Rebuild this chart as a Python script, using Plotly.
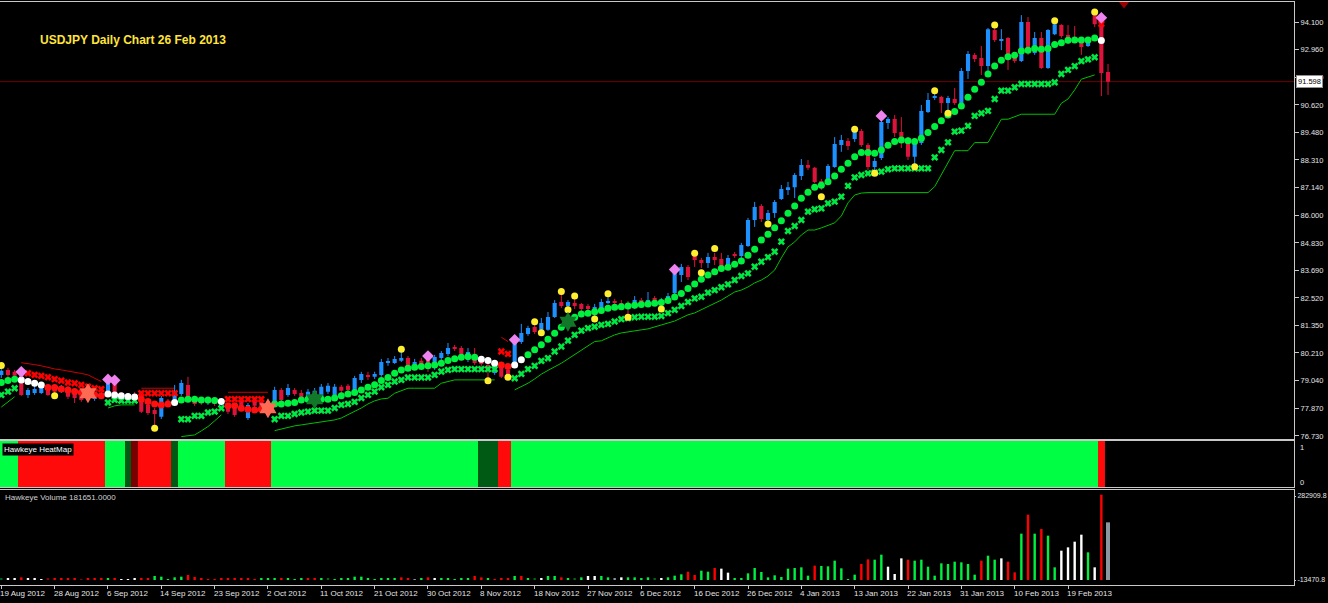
import plotly.graph_objects as go

W, H = 1328, 603

# ---------------- data ----------------
date_labels = ["19 Aug 2012", "28 Aug 2012", "6 Sep 2012", "14 Sep 2012", "23 Sep 2012",
               "2 Oct 2012", "11 Oct 2012", "21 Oct 2012", "30 Oct 2012", "8 Nov 2012",
               "18 Nov 2012", "27 Nov 2012", "6 Dec 2012", "16 Dec 2012", "26 Dec 2012",
               "4 Jan 2013", "13 Jan 2013", "22 Jan 2013", "31 Jan 2013", "10 Feb 2013",
               "19 Feb 2013"]
date_ticks = [0, 8, 16, 24, 32, 40, 48, 56, 64, 72, 80, 88, 96, 104, 112, 120, 128, 136, 144, 152, 160]

open_ = [79.29, 79.50, 79.42, 79.29, 78.45, 78.53, 78.53, 78.79, 78.70, 78.58,
         78.74, 78.66, 78.41, 78.53, 78.28, 78.53, 78.53, 78.95, 78.49, 78.37,
         78.49, 78.53, 78.03, 77.82, 77.53, 78.20, 78.24, 78.49, 78.87, 78.32,
         78.24, 78.11, 78.24, 78.07, 78.03, 77.86, 78.24, 77.48, 78.24, 78.16,
         77.82, 78.11, 78.66, 78.45, 78.66, 78.53, 78.37, 78.41, 78.28, 78.58,
         78.45, 78.79, 78.83, 78.66, 79.08, 79.27, 79.21, 79.29, 79.81, 79.79,
         79.88, 80.00, 79.71, 79.88, 79.92, 79.59, 80.00, 80.17, 80.46, 80.42,
         79.92, 80.04, 79.92, 79.71, 79.37, 79.59, 79.50, 79.71, 80.67, 81.01,
         81.30, 81.18, 81.18, 81.72, 82.35, 82.18, 82.31, 82.27, 82.18, 81.93,
         82.10, 82.33, 82.37, 82.31, 82.31, 82.14, 82.43, 82.39, 82.52, 82.27,
         82.43, 82.73, 83.48, 83.82, 84.28, 84.11, 83.99, 84.24, 84.15, 83.82,
         84.34, 84.28, 84.70, 85.79, 86.38, 85.79, 86.08, 86.67, 87.05, 87.17,
         87.64, 88.10, 87.98, 87.43, 87.51, 88.02, 88.94, 89.11, 89.19, 89.53,
         88.94, 88.02, 88.39, 89.86, 90.03, 89.48, 89.07, 88.44, 89.02, 90.32,
         90.93, 90.95, 90.70, 90.87, 90.70, 92.04, 92.72, 92.59, 92.25, 93.76,
         93.34, 93.43, 92.63, 92.46, 94.10, 92.80, 93.43, 92.17, 93.59, 93.97,
         93.55, 93.43, 93.26, 93.09, 94.39, 94.18, 92.00]
high = [79.63, 79.59, 79.50, 79.37, 78.74, 78.83, 78.87, 78.87, 78.74, 78.87,
        78.83, 78.74, 78.49, 78.66, 78.53, 78.62, 79.04, 79.00, 78.53, 78.53,
        78.58, 78.62, 78.11, 77.90, 78.41, 78.28, 78.87, 79.08, 79.21, 78.41,
        78.32, 78.32, 78.32, 78.28, 78.11, 77.95, 78.32, 78.11, 78.32, 78.24,
        78.24, 78.79, 78.74, 78.91, 78.74, 78.66, 78.70, 78.74, 78.91, 78.95,
        78.91, 78.87, 78.91, 79.25, 79.42, 79.42, 79.42, 79.96, 80.00, 80.08,
        80.25, 80.08, 79.96, 80.00, 80.00, 80.13, 80.29, 80.63, 80.55, 80.50,
        80.42, 80.42, 80.04, 79.83, 79.67, 79.67, 79.59, 80.71, 81.43, 81.35,
        81.39, 81.68, 81.93, 82.43, 82.69, 82.43, 82.52, 82.31, 82.27, 82.27,
        82.48, 82.56, 82.48, 82.43, 82.39, 82.60, 82.52, 82.77, 82.60, 82.52,
        82.73, 83.65, 83.95, 83.90, 84.32, 84.20, 84.41, 84.41, 84.41, 84.32,
        84.45, 84.83, 85.88, 86.55, 86.46, 86.21, 86.63, 87.26, 87.39, 87.76,
        88.35, 88.31, 88.02, 87.51, 88.14, 89.27, 89.36, 89.23, 89.50, 89.61,
        89.02, 88.39, 89.99, 90.11, 90.20, 90.11, 89.27, 89.23, 90.62, 91.12,
        91.12, 91.00, 91.00, 91.33, 92.17, 92.88, 92.80, 93.09, 93.85, 93.85,
        93.80, 93.47, 92.72, 94.39, 94.31, 93.68, 93.68, 93.80, 94.06, 94.01,
        93.97, 93.93, 93.34, 93.34, 94.44, 94.23, 92.34]
low = [79.16, 79.16, 79.08, 78.41, 78.32, 78.45, 78.49, 78.41, 78.53, 78.53,
       78.28, 78.11, 78.16, 78.24, 78.20, 78.28, 78.49, 78.41, 78.28, 78.28,
       78.32, 77.69, 77.61, 77.11, 77.44, 77.95, 78.16, 78.41, 78.28, 77.99,
       78.03, 78.03, 77.99, 77.99, 77.65, 77.53, 77.86, 77.40, 77.90, 77.82,
       77.74, 78.03, 78.16, 78.37, 78.41, 78.24, 78.28, 78.32, 78.20, 78.49,
       78.37, 78.53, 78.58, 78.58, 78.95, 79.08, 79.12, 79.21, 79.67, 79.75,
       79.83, 79.59, 79.63, 79.67, 79.42, 79.50, 79.92, 80.08, 80.29, 80.04,
       79.83, 79.71, 79.59, 79.12, 79.29, 79.16, 79.25, 79.63, 80.59, 80.93,
       81.01, 81.14, 81.14, 81.68, 82.10, 82.10, 82.06, 81.89, 81.98, 81.77,
       82.02, 82.27, 82.22, 82.14, 81.85, 82.06, 82.22, 82.22, 82.27, 82.18,
       82.35, 82.64, 83.19, 83.27, 83.82, 83.78, 83.78, 83.90, 83.78, 83.78,
       84.20, 84.20, 84.66, 85.50, 85.71, 85.71, 85.88, 86.63, 86.84, 86.71,
       87.47, 87.89, 87.34, 87.05, 87.43, 87.98, 88.65, 88.73, 89.07, 88.86,
       87.89, 87.89, 88.31, 89.61, 89.27, 88.81, 88.31, 88.14, 88.94, 90.28,
       90.83, 90.28, 90.37, 90.62, 90.66, 91.71, 92.42, 91.88, 92.00, 93.26,
       92.92, 92.09, 92.38, 92.42, 92.72, 92.72, 92.13, 92.13, 93.55, 93.43,
       93.18, 93.22, 92.72, 93.05, 93.89, 90.99, 91.04]
close = [79.46, 79.29, 79.25, 78.45, 78.66, 78.70, 78.79, 78.45, 78.58, 78.79,
         78.37, 78.32, 78.24, 78.32, 78.45, 78.32, 79.00, 78.45, 78.37, 78.45,
         78.37, 77.74, 77.69, 77.65, 78.32, 78.03, 78.58, 78.95, 78.37, 78.07,
         78.11, 78.24, 78.07, 78.20, 77.74, 77.61, 77.95, 78.03, 77.99, 77.90,
         78.16, 78.66, 78.24, 78.74, 78.49, 78.32, 78.58, 78.62, 78.79, 78.83,
         78.79, 78.62, 78.66, 79.16, 79.33, 79.23, 79.33, 79.83, 79.85, 79.96,
         80.00, 79.63, 79.83, 79.75, 79.63, 80.04, 80.21, 80.42, 80.38, 80.13,
         80.25, 79.79, 79.75, 79.50, 79.59, 79.21, 79.33, 80.67, 81.05, 81.26,
         81.09, 81.47, 81.72, 82.31, 82.18, 82.35, 82.18, 82.06, 82.06, 82.14,
         82.35, 82.37, 82.33, 82.22, 82.10, 82.43, 82.31, 82.43, 82.35, 82.43,
         82.60, 83.57, 83.82, 83.40, 84.11, 83.99, 84.24, 84.11, 83.86, 84.20,
         84.30, 84.74, 85.79, 86.34, 85.83, 86.08, 86.55, 87.09, 87.17, 87.68,
         88.10, 87.98, 87.39, 87.34, 88.06, 88.98, 89.15, 88.90, 89.48, 88.94,
         88.02, 88.27, 89.90, 90.03, 89.44, 89.15, 88.44, 89.07, 90.37, 90.83,
         90.98, 90.70, 90.91, 90.70, 92.04, 92.76, 92.55, 92.25, 93.80, 93.34,
         93.38, 92.63, 92.46, 94.10, 92.92, 93.43, 92.17, 93.76, 94.01, 93.51,
         93.26, 93.38, 93.05, 93.26, 94.01, 91.96, 91.598]

# big dot trailing stop
trail_dots = [78.97, 79.05, 79.11, 79.08, 79.01, 78.94, 78.87, 78.76, 78.76, 78.70,
              78.66, 78.59, 78.55, 78.52, 78.45, 78.41, 78.49, 78.45, 78.41, 78.38,
              78.36, 78.27, 78.17, 78.07, 78.03, 78.07, 78.13, 78.24, 78.27, 78.27,
              78.24, 78.24, 78.21, 78.17, 77.99, 77.99, 77.89, 77.85, 77.82, 77.85,
              77.89, 78.07, 78.07, 78.10, 78.13, 78.24, 78.27, 78.27, 78.27, 78.27,
              78.32, 78.41, 78.49, 78.55, 78.66, 78.77, 78.88, 79.05, 79.18, 79.36,
              79.50, 79.57, 79.61, 79.64, 79.67, 79.71, 79.78, 79.89, 79.97, 80.03,
              80.06, 80.03, 79.95, 79.89, 79.78, 79.71, 79.64, 79.71, 79.92, 80.13,
              80.34, 80.55, 80.79, 81.04, 81.29, 81.52, 81.71, 81.85, 81.88, 81.94,
              81.99, 82.09, 82.13, 82.15, 82.18, 82.21, 82.24, 82.27, 82.30, 82.33,
              82.41, 82.56, 82.71, 82.92, 83.10, 83.30, 83.48, 83.62, 83.76, 83.81,
              83.93, 84.07, 84.31, 84.56, 84.95, 85.19, 85.47, 85.76, 86.07, 86.38,
              86.70, 86.95, 87.16, 87.25, 87.40, 87.64, 87.92, 88.17, 88.44, 88.62,
              88.62, 88.59, 88.73, 88.93, 89.08, 89.15, 89.12, 89.08, 89.22, 89.46,
              89.71, 89.96, 90.20, 90.34, 90.58, 90.94, 91.28, 91.57, 91.92, 92.25,
              92.50, 92.64, 92.70, 92.88, 92.92, 92.99, 92.96, 92.99, 93.16, 93.23,
              93.33, 93.34, 93.34, 93.34, 93.43, 93.32, None]
dot_runs = [("G", 3), ("W", 4), ("R", 9), ("W", 5), ("R", 5), ("W", 1), ("G", 6), ("W", 1),
            ("R", 7), ("G", 31), ("W", 3), ("R", 2), ("W", 2), ("G", 86), ("W", 1), ("-", 1)]

# x-mark trailing stop
x_trail = [78.45, 78.59, 78.73, None, 79.36, 79.29, 79.25, 79.19, 79.11, 79.05,
           78.97, 78.94, 78.87, 78.80, 78.73, 78.69, 78.13, 78.24, 78.21, 78.21,
           78.21, 78.52, 78.52, 78.52, 78.52, 78.52, 78.52, 77.43, 77.43, 77.57,
           77.57, 77.71, 77.75, 77.89, 78.27, 78.27, 78.27, 78.27, 78.27, 78.27,
           None, 77.43, 77.57, 77.57, 77.65, 77.71, 77.75, 77.79, 77.79, 77.79,
           77.90, 78.03, 78.07, 78.16, 78.32, 78.45, 78.59, 78.77, 78.87, 79.01,
           79.08, 79.18, 79.18, 79.18, 79.18, 79.29, 79.43, 79.50, 79.53, 79.53,
           79.53, 79.53, 79.53, 79.53, 79.53, 80.27, 80.17, 79.15, 79.33, 79.53,
           79.67, 79.88, 79.99, 80.27, 80.48, 80.73, 80.97, 81.15, 81.25, 81.31,
           81.39, 81.43, 81.53, 81.63, 81.67, 81.71, 81.73, 81.73, 81.73, 81.76,
           81.88, 82.02, 82.18, 82.35, 82.50, 82.57, 82.74, 82.85, 82.97, 83.09,
           83.27, 83.44, 83.55, 83.83, 84.04, 84.23, 84.46, 84.88, 85.33, 85.54,
           85.79, 86.14, 86.24, 86.28, 86.49, 86.56, 86.77, 87.22, 87.58, 87.68,
           87.75, 87.78, 87.82, 87.92, 87.96, 87.96, 87.96, 87.96, 87.96, 87.96,
           88.42, 88.73, 89.05, 89.50, 89.54, 89.74, 90.16, 90.27, 90.37, 90.87,
           91.22, 91.22, 91.36, 91.50, 91.50, 91.50, 91.50, 91.50, 91.57, 91.92,
           92.09, 92.25, 92.46, 92.53, 92.62, 94.02, None]
x_runs = [("G", 3), ("-", 1), ("R", 12), ("G", 5), ("R", 6), ("G", 7), ("R", 6), ("-", 1),
          ("G", 34), ("R", 2), ("G", 88), ("R", 1), ("-", 1)]

# thin band lines: (first bar index, values)
lower_band = [(0, [77.94, 78.16, 78.37]),
              (16, [77.90, 77.99, 78.03, 78.03, 78.03]),
              (27, [76.70, 76.73, 76.77, 76.94, 77.12, 77.36, 77.61]),
              (41, [76.95, 77.02, 77.09, 77.15, 77.19, 77.23, 77.27, 77.30, 77.33, 77.40,
                    77.48, 77.61, 77.74, 77.90, 78.07, 78.20, 78.28, 78.31, 78.52, 78.62,
                    78.73, 78.73, 78.73, 78.73, 78.73, 78.94, 79.00, 79.08, 79.08, 79.08,
                    79.08, 79.08, 79.08, 79.08]),
              (77, [78.66, 78.79, 78.94, 79.12, 79.32, 79.48, 79.62, 79.78, 79.96, 80.15,
                    80.34, 80.51, 80.69, 80.72, 80.84, 80.97, 81.05, 81.10, 81.16, 81.18,
                    81.22, 81.30, 81.39, 81.47, 81.55, 81.68, 81.81, 81.89, 82.02, 82.18,
                    82.31, 82.43, 82.60, 82.77, 82.85, 82.98, 83.15, 83.27, 83.44, 83.69,
                    84.20, 84.66, 84.87, 85.16, 85.37, 85.37, 85.46, 85.58, 85.67, 85.96,
                    86.51, 86.84, 86.92, 86.94, 86.94, 86.94, 86.94, 86.94, 86.94, 86.94,
                    86.94, 86.94, 86.94, 87.19, 87.68, 88.23, 88.70, 88.70, 88.70, 89.04,
                    89.04, 89.04, 89.53, 90.02, 90.02, 90.14, 90.23, 90.23, 90.23, 90.23,
                    90.23, 90.23, 90.69, 90.87, 91.25, 91.70, 91.79, 91.88])]
upper_band = [(3, [79.80, 79.77, 79.72, 79.67, 79.60, 79.54, 79.50, 79.46, 79.42, 79.35,
                   79.29, 79.16, 79.01]),
              (21, [78.73, 78.73, 78.73, 78.73, 78.73, 78.73]),
              (34, [78.56, 78.56, 78.56, 78.56, 78.56, 78.56, 78.56]),
              (75, [80.87, 80.69])]

yellow_idx = [0, 8, 23, 60, 73, 76, 80, 81, 84, 85, 86, 89, 91, 94, 99, 104, 105, 107,
              115, 123, 128, 131, 137, 140, 142, 149, 158, 164]
yellow_price = [79.68, 78.41, 77.05, 80.37, 79.04, 79.19, 81.52, 81.06, 82.79, 82.02, 82.60,
                81.64, 82.69, 81.71, 82.06, 84.40, 83.58, 84.59, 85.62, 86.77, 89.60, 87.75,
                88.03, 91.21, 90.27, 93.97, 94.15, 94.52]
diamond_idx = [3, 16, 17, 64, 77, 101, 132, 165]
diamond_price = [79.42, 79.10, 79.06, 80.08, 80.76, 83.71, 90.16, 94.28]
burst_idx = [13, 40, 47, 85]
burst_price = [78.52, 77.89, 78.27, 81.52]
burst_kind = ["S", "S", "D", "D"]
alert_idx = [168.4]
alert_price = [94.86]

heat_runs = [("G", 3), ("R", 13), ("G", 3), ("D", 1), ("K", 1), ("R", 5), ("D", 1), ("G", 7),
             ("R", 7), ("G", 31), ("D", 3), ("R", 2), ("G", 88), ("R", 1)]

volume = [4700, 4700, 5900, 9400, 7100, 4700, 2400, 4700, 4700, 4700,
          4700, 7100, 2400, 4700, 4700, 4700, 7100, 7100, 2400, 2400,
          4700, 7100, 7100, 14100, 11800, 2400, 9400, 11800, 17600, 10600,
          4700, 2400, 2400, 4700, 7100, 7100, 7100, 7100, 2400, 7100,
          4700, 7100, 7100, 4700, 2400, 4700, 4700, 7100, 7100, 4700,
          2400, 7100, 7100, 11800, 11800, 4700, 2400, 7100, 7100, 7100,
          9400, 7100, 3500, 4700, 9400, 7100, 7100, 7100, 2400, 4700,
          7100, 14100, 9400, 7100, 2400, 4700, 7100, 14100, 14100, 7100,
          4700, 7100, 14100, 14100, 9400, 7100, 4700, 9400, 14100, 14100,
          14100, 9400, 4700, 9400, 9400, 9400, 7100, 9400, 4700, 7100,
          9400, 15300, 20000, 29400, 17600, 32900, 29400, 42300, 40000, 25900,
          5900, 7100, 23500, 42300, 28200, 9400, 16500, 10600, 40000, 42300,
          44700, 15300, 50600, 49400, 48200, 68200, 41200, 1200, 18800, 56400,
          72900, 71700, 89400, 47000, 21200, 76400, 71700, 68200, 71700, 47000,
          15300, 58800, 56400, 64700, 62300, 56400, 18800, 68200, 85800, 71700,
          76400, 64700, 27000, 163500, 230500, 163500, 179900, 156400, 44700, 103500,
          115200, 135200, 159900, 97600, 44700, 301100, 203400]
vol_codes = ("DWWRWWWKRR" "RRKRRRGRWW" "WRRGGGGGRR" "RRRRRRRRRG" "GGRGGGRRGD"
             "GGGGGGGGGG" "RRAGRWGGGG" "GRRGRRRGRG" "DWGGRGDGWW" "GGAWGGGGDW"
             "GGGRRGGRWW" "GGGGGGGGGG" "GGRGGGGGGR" "RGGWWWRGGG" "GGGGGGGRGG"
             "WRRGRGRGGW" "WWWGWRA")

last_price = 91.598
price_ticks = [94.100, 92.960, 91.790, 90.620, 89.480, 88.310, 87.140, 86.000,
               84.830, 83.690, 82.520, 81.350, 80.210, 79.040, 77.870, 76.730]
vol_ticks = [282909.8, -13470.8]
volume_title = "Hawkeye Volume 181651.0000"

# ---------------- styling ----------------
BULL, BEAR = "#1e90ff", "#dc143c"
DOT_COL = {"G": "#00f040", "W": "#ffffff", "R": "#ff1010"}
X_COL = {"G": "#00e844", "R": "#ff0000"}
VOL_COL = {"G": "#00f040", "R": "#ff0000", "W": "#ffffff", "D": "#006414", "K": "#8b0000", "A": "#8c969e"}
HEAT_CODE = {"G": 0, "R": 1, "D": 2, "K": 3}
FRAME = "#c8c8c8"
TXT = "#e4e4e4"
FONT = "Liberation Sans, Arial, sans-serif"


def expand(runs):
    return [c for c, n in runs for _ in range(n)]


def segments(segs):
    xs, ys = [], []
    for start, vals in segs:
        xs += list(range(start, start + len(vals))) + [None]
        ys += list(vals) + [None]
    return xs, ys


n = len(close)
idx = list(range(n))
x_end = 1294  # px right edge of the plot panels
px_per_bar = 6.667
x0_px = 1.3
xr = [(0 - x0_px) / px_per_bar, (x_end - x0_px) / px_per_bar]
xdom = [0, x_end / W]


def ydom(top_px, bot_px):
    return [1 - bot_px / H, 1 - top_px / H]


fig = go.Figure()

# band lines
lx, ly = segments(lower_band)
fig.add_trace(go.Scatter(x=lx, y=ly, mode="lines", line=dict(color="#00c000", width=1),
                         hoverinfo="skip", xaxis="x", yaxis="y"))
ux, uy = segments(upper_band)
fig.add_trace(go.Scatter(x=ux, y=uy, mode="lines", line=dict(color="#cc0000", width=1),
                         hoverinfo="skip", xaxis="x", yaxis="y"))

# wicks
for col, is_bull in ((BULL, True), (BEAR, False)):
    wx, wy = [], []
    for i in idx:
        if (close[i] >= open_[i]) == is_bull:
            wx += [i, i, None]
            wy += [low[i], high[i], None]
    fig.add_trace(go.Scatter(x=wx, y=wy, mode="lines", line=dict(color=col, width=1),
                             hoverinfo="skip", xaxis="x", yaxis="y"))

# bodies
body_base = [min(o, c) for o, c in zip(open_, close)]
body_h = [max(abs(c - o), 0.035) for o, c in zip(open_, close)]
body_col = [BULL if c >= o else BEAR for o, c in zip(open_, close)]
fig.add_trace(go.Bar(x=idx, y=body_h, base=body_base, width=0.62,
                     marker=dict(color=body_col, line=dict(width=0)),
                     hoverinfo="skip", xaxis="x", yaxis="y"))

# x-mark trail
xs_state = expand(x_runs)
xm_x = [i for i in idx if xs_state[i] != "-"]
fig.add_trace(go.Scatter(x=xm_x, y=[x_trail[i] for i in xm_x], mode="markers",
                         marker=dict(symbol="x", size=6.5, color=[X_COL[xs_state[i]] for i in xm_x],
                                     line=dict(width=0)),
                         hoverinfo="skip", xaxis="x", yaxis="y"))

# dot trail
ds = expand(dot_runs)
dx = [i for i in idx if ds[i] != "-"]
fig.add_trace(go.Scatter(x=dx, y=[trail_dots[i] for i in dx], mode="markers",
                         marker=dict(symbol="circle", size=7, color=[DOT_COL[ds[i]] for i in dx],
                                     line=dict(width=0)),
                         hoverinfo="skip", xaxis="x", yaxis="y"))

# yellow fractal dots
fig.add_trace(go.Scatter(x=yellow_idx, y=yellow_price, mode="markers",
                         marker=dict(symbol="circle", size=7, color="#ffee30", line=dict(width=0)),
                         hoverinfo="skip", xaxis="x", yaxis="y"))
# pink diamonds
fig.add_trace(go.Scatter(x=diamond_idx, y=diamond_price, mode="markers",
                         marker=dict(symbol="diamond", size=9, color="#ee82ee", line=dict(width=0)),
                         hoverinfo="skip", xaxis="x", yaxis="y"))
# bursts
bcol = ["#ff6a55" if k == "S" else "#11782a" for k in burst_kind]
fig.add_trace(go.Scatter(x=burst_idx, y=burst_price, mode="markers",
                         marker=dict(symbol="circle", size=11, color=bcol, line=dict(width=0)),
                         hoverinfo="skip", xaxis="x", yaxis="y"))
fig.add_trace(go.Scatter(x=burst_idx, y=burst_price, mode="markers",
                         marker=dict(symbol="hexagram", size=15, color=bcol, line=dict(width=0)),
                         hoverinfo="skip", xaxis="x", yaxis="y"))
# alert triangle at top
fig.add_trace(go.Scatter(x=alert_idx, y=alert_price, mode="markers", cliponaxis=False,
                         marker=dict(symbol="triangle-down", size=9, color="#9a0000", line=dict(width=0)),
                         hoverinfo="skip", xaxis="x", yaxis="y"))

# heat map panel
hs = expand(heat_runs)
fig.add_trace(go.Heatmap(z=[[HEAT_CODE[c] for c in hs]], x=list(range(len(hs))), y=[0.5],
                         zmin=0, zmax=3, showscale=False, hoverinfo="skip",
                         colorscale=[[0, "#00ff44"], [0.1667, "#00ff44"], [0.1667, "#ff0a0a"], [0.5, "#ff0a0a"],
                                     [0.5, "#005a14"], [0.8333, "#005a14"], [0.8333, "#7a0000"], [1, "#7a0000"]],
                         xaxis="x2", yaxis="y2"))

# volume panel
vwidth = [0.36] * (n - 1) + [0.6]
fig.add_trace(go.Bar(x=idx, y=volume, base=vol_ticks[1], width=vwidth,
                     marker=dict(color=[VOL_COL[c] for c in vol_codes], line=dict(width=0)),
                     hoverinfo="skip", xaxis="x3", yaxis="y3"))

axis_common = dict(showgrid=False, zeroline=False, showline=True, mirror=True,
                   linecolor=FRAME, linewidth=1, automargin=False)

fig.update_layout(
    width=W, height=H, template="none",
    paper_bgcolor="black", plot_bgcolor="black",
    margin=dict(l=0, r=0, t=0, b=0),
    showlegend=False, barmode="overlay", hovermode=False,
    font=dict(family=FONT, color=TXT, size=8),
    xaxis=dict(domain=xdom, range=xr, anchor="y", showticklabels=False, ticks="", **axis_common),
    yaxis=dict(domain=ydom(2, 438.5), range=[76.62, 94.94], side="right", anchor="x",
               tickvals=price_ticks, ticktext=[f"{v:.3f}" for v in price_ticks],
               ticks="outside", ticklen=4, tickcolor=FRAME,
               tickfont=dict(size=7.5, color=TXT, family=FONT), **axis_common),
    xaxis2=dict(domain=xdom, range=xr, anchor="y2", showticklabels=False, ticks="", **axis_common),
    yaxis2=dict(domain=ydom(441, 487), range=[0, 1], side="right", anchor="x2",
                showticklabels=False, ticks="", **axis_common),
    xaxis3=dict(domain=xdom, range=xr, anchor="y3", showticklabels=False,
                tickvals=date_ticks, ticks="outside", ticklen=3, tickcolor=FRAME, **axis_common),
    yaxis3=dict(domain=ydom(490, 585), range=[-31111, 304078], side="right", anchor="x3",
                tickvals=vol_ticks, ticktext=[f"{v:.1f}" for v in vol_ticks],
                ticks="outside", ticklen=1, tickcolor=FRAME,
                tickfont=dict(size=7, color=TXT, family=FONT), **axis_common),
)

# current price line
fig.add_shape(type="line", xref="paper", yref="y", x0=0, x1=x_end / W, y0=last_price, y1=last_price,
              line=dict(color="#6e0000", width=1), layer="below")

ann = []
ann.append(dict(text="<b>USDJPY Daily Chart 26 Feb 2013</b>", xref="paper", yref="paper",
                x=38 / W, y=1 - 40 / H, xanchor="left", yanchor="middle", showarrow=False,
                font=dict(family=FONT, size=12, color="#ffe43a")))
ann.append(dict(text=f"{last_price:.3f}", xref="paper", yref="y", x=1295.5 / W, y=last_price,
                xanchor="left", yanchor="middle", showarrow=False, bgcolor="#ffffff",
                bordercolor="#909090", borderwidth=1, borderpad=1,
                font=dict(family=FONT, size=7.5, color="#000000")))
ann.append(dict(text="Hawkeye HeatMap", xref="paper", yref="paper", x=2 / W, y=1 - 449 / H,
                xanchor="left", yanchor="middle", showarrow=False, bgcolor="#000000", borderpad=1,
                font=dict(family=FONT, size=8, color="#ffffff")))
ann.append(dict(text=volume_title, xref="paper", yref="paper", x=3 / W, y=1 - 497.5 / H,
                xanchor="left", yanchor="middle", showarrow=False,
                font=dict(family=FONT, size=8, color="#d0d0d0")))
for lab, ypx in (("1", 447), ("0", 482)):
    ann.append(dict(text=lab, xref="paper", yref="paper", x=1298 / W, y=1 - ypx / H,
                    xanchor="left", yanchor="middle", showarrow=False,
                    font=dict(family=FONT, size=7.5, color=TXT)))
for t, lab in zip(date_ticks, date_labels):
    ann.append(dict(text=lab, xref="x3", yref="paper", x=t, y=1 - 593 / H, xshift=-3,
                    xanchor="left", yanchor="middle", showarrow=False,
                    font=dict(family=FONT, size=8, color=TXT)))
fig.update_layout(annotations=ann)

fig.write_html("out.html", include_plotlyjs=True, config={"displayModeBar": False})

# remove the default page margin so the figure sits at the window's top-left corner
with open("out.html", "r", encoding="utf-8") as fh:
    page = fh.read()
page = page.replace("<head>", "<head><style>html,body{margin:0;padding:0;background:#000;overflow:hidden;}</style>", 1)
with open("out.html", "w", encoding="utf-8") as fh:
    fh.write(page)
